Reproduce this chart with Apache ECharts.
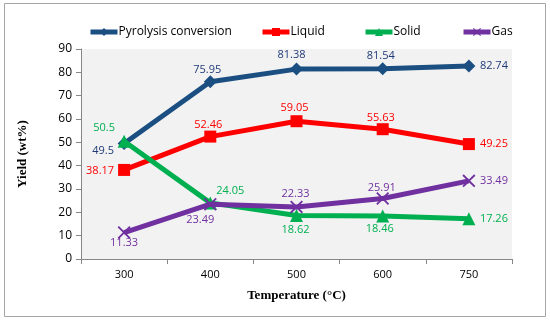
<!DOCTYPE html>
<html><head><meta charset="utf-8">
<script src="https://cdn.jsdelivr.net/npm/echarts@6/dist/echarts.min.js"></script>
<style>html,body{margin:0;padding:0;background:#fff}#c{width:550px;height:321px}</style>
</head><body><div id="c"></div>
<script>
const categories = ['300', '400', '500', '600', '750'];
const pyrolysis = [49.5, 75.95, 81.38, 81.54, 82.74];
const liquid = [38.17, 52.46, 59.05, 55.63, 49.25];
const solid = [50.5, 24.05, 18.62, 18.46, 17.26];
const gas = [11.33, 23.49, 22.33, 25.91, 33.49];
const seriesNames = ['Pyrolysis conversion', 'Liquid', 'Solid', 'Gas'];

const labelOffsets = {
  pyrolysis: [[-21, 7], [-3, -12], [-5, -14], [-2, -13], [25, 0]],
  liquid: [[-24, 1], [-2, -12], [-2, -13], [-2, -11], [25, 0]],
  solid: [[-20, -13], [20, -12], [-1, 14], [-3, 13], [25, 0]],
  gas: [[0, 10], [-10, 16], [-1, -13], [-1, -11], [25, 0]]
};
const FONT = 'Open Sans';
function mk(vals, offs, color) {
  return vals.map((v, i) => ({
    value: v,
    label: { show: true, position: 'inside', offset: offs[i], color: color, fontSize: 11, fontFamily: FONT, formatter: String(v) }
  }));
}
const crossPath = 'path://M0,1L1,0L5,4L9,0L10,1L6,5L10,9L9,10L5,6L1,10L0,9L4,5Z';

const chart = echarts.init(document.getElementById('c'));
const legendBase = { top: 21, itemWidth: 27, itemHeight: 10, lineStyle: { width: 5 },
  textStyle: { fontFamily: FONT, fontSize: 12, color: '#000', padding: [0, 0, 0, -4] } };
chart.setOption({
  animation: false,
  graphic: [{ type: 'rect', shape: { x: 4.5, y: 3.5, width: 541, height: 313 }, style: { fill: 'none', stroke: '#a6a6a6', lineWidth: 1 } }],
  legend: [
    Object.assign({ data: [seriesNames[0]], left: 83 }, legendBase),
    Object.assign({ data: [seriesNames[1]], left: 255 }, legendBase),
    Object.assign({ data: [seriesNames[2]], left: 358 }, legendBase),
    Object.assign({ data: [seriesNames[3]], left: 456 }, legendBase)
  ],
  grid: { left: 81, right: 38, top: 49, bottom: 62, show: true, backgroundColor: '#f2f2f2', borderWidth: 0 },
  xAxis: {
    type: 'category', data: categories, boundaryGap: true,
    name: 'Temperature (°C)', nameLocation: 'middle', nameGap: 30,
    nameTextStyle: { fontFamily: 'Liberation Serif', fontWeight: 'bold', fontSize: 13, color: '#000' },
    axisLine: { lineStyle: { color: '#868686', width: 1 } },
    axisTick: { show: true, length: 5, interval: 0, alignWithLabel: false, lineStyle: { color: '#868686' } },
    axisLabel: { fontFamily: FONT, fontSize: 11, color: '#000', margin: 10 },
    splitLine: { show: false }
  },
  yAxis: {
    type: 'value', min: 0, max: 90, interval: 10,
    name: 'Yield (wt%)', nameLocation: 'middle', nameGap: 52, nameRotate: 90,
    nameTextStyle: { fontFamily: 'Liberation Serif', fontWeight: 'bold', fontSize: 13, color: '#000' },
    axisLine: { show: true, lineStyle: { color: '#868686', width: 1 } },
    axisTick: { show: true, length: 5, lineStyle: { color: '#868686' } },
    axisLabel: { fontFamily: FONT, fontSize: 12, color: '#000', margin: 9 },
    splitLine: { show: false }
  },
  series: [
    { name: seriesNames[0], type: 'line', data: mk(pyrolysis, labelOffsets.pyrolysis, '#203a78'),
      symbol: 'diamond', symbolSize: 13, color: '#1b4f82', lineStyle: { width: 5, color: '#1b4f82' }, itemStyle: { color: '#1b4f82' }, z: 3 },
    { name: seriesNames[1], type: 'line', data: mk(liquid, labelOffsets.liquid, '#ff0000'),
      symbol: 'rect', symbolSize: 12, color: '#ff0000', lineStyle: { width: 5, color: '#ff0000' }, itemStyle: { color: '#ff0000' }, z: 3 },
    { name: seriesNames[2], type: 'line', data: mk(solid, labelOffsets.solid, '#00b050'),
      symbol: 'triangle', symbolSize: 13, color: '#00b050', lineStyle: { width: 5, color: '#00b050' }, itemStyle: { color: '#00b050' }, z: 4 },
    { name: seriesNames[3], type: 'line', data: mk(gas, labelOffsets.gas, '#7030a0'),
      symbol: crossPath, symbolSize: 13, color: '#7030a0', lineStyle: { width: 5, color: '#7030a0' }, itemStyle: { color: '#7030a0' }, z: 5 }
  ]
});
</script></body></html>
